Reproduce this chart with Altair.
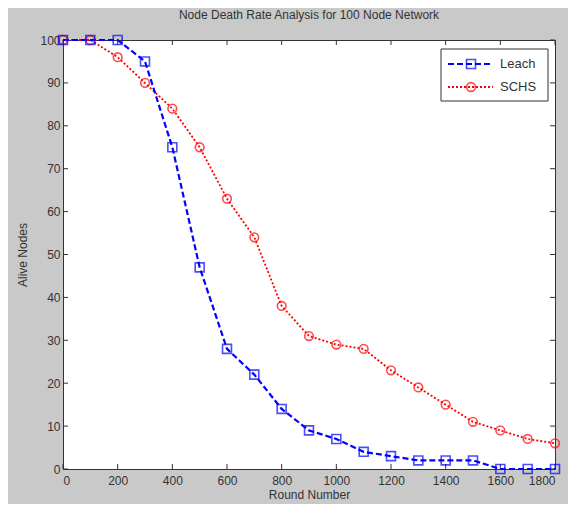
import altair as alt
import pandas as pd

rounds = [0, 100, 200, 300, 400, 500, 600, 700, 800, 900, 1000, 1100, 1200, 1300, 1400, 1500, 1600, 1700, 1800]
leach = [100, 100, 100, 95, 75, 47, 28, 22, 14, 9, 7, 4, 3, 2, 2, 2, 0, 0, 0]
schs = [100, 100, 96, 90, 84, 75, 63, 54, 38, 31, 29, 28, 23, 19, 15, 11, 9, 7, 6]
x_ticks = [0, 200, 400, 600, 800, 1000, 1200, 1400, 1600, 1800]
y_ticks = [0, 10, 20, 30, 40, 50, 60, 70, 80, 90, 100]
series_names = ["Leach", "SCHS"]

W, H = 492, 429
INK = "#333333"
FONT = "Liberation Sans"

xs = alt.Scale(domain=[0, 1800], nice=False, zero=False)
ys = alt.Scale(domain=[0, 100], nice=False, zero=False)
ax_x = alt.Axis(values=x_ticks, title="Round Number", ticks=False, grid=False,
                labelPadding=6, titlePadding=3, format="d")
ax_y = alt.Axis(values=y_ticks, title="Alive Nodes", ticks=False, grid=False,
                labelPadding=3, titlePadding=10, format="d")

df_l = pd.DataFrame({"round": rounds, "alive": leach})
df_s = pd.DataFrame({"round": rounds, "alive": schs})
df_xt = pd.DataFrame({"round": x_ticks})
df_yt = pd.DataFrame({"alive": y_ticks})

X = alt.X("round:Q", scale=xs, axis=ax_x)
Y = alt.Y("alive:Q", scale=ys, axis=ax_y)

leach_line = alt.Chart(df_l).mark_line(color="#0000ff", strokeWidth=2.2, strokeDash=[6, 3]).encode(x=X, y=Y)
leach_pts = alt.Chart(df_l).mark_point(shape="square", color="#0000ff", filled=False, size=80, strokeWidth=1.6).encode(x=X, y=Y)
schs_line = alt.Chart(df_s).mark_line(color="#ff0000", strokeWidth=1.8, strokeDash=[2, 2]).encode(x=X, y=Y)
schs_pts = alt.Chart(df_s).mark_point(shape="circle", color="#ff0000", filled=False, size=75, strokeWidth=1.6).encode(x=X, y=Y)

# inward ticks on all four sides
xt_bot = alt.Chart(df_xt).mark_rule(color=INK).encode(x=X, y=alt.value(H - 5), y2=alt.value(H))
xt_top = alt.Chart(df_xt).mark_rule(color=INK).encode(x=X, y=alt.value(0), y2=alt.value(5))
yt_left = alt.Chart(df_yt).mark_rule(color=INK).encode(y=Y, x=alt.value(0), x2=alt.value(5))
yt_right = alt.Chart(df_yt).mark_rule(color=INK).encode(y=Y, x=alt.value(W - 5), x2=alt.value(W))

# legend
df_n1 = pd.DataFrame({"name": [series_names[0]]})
df_n2 = pd.DataFrame({"name": [series_names[1]]})
leg_box = alt.Chart(df_n1).mark_rect(fill="white", stroke=INK, strokeWidth=1).encode(
    x=alt.value(378), x2=alt.value(485), y=alt.value(9), y2=alt.value(61))
leg_l1 = alt.Chart(df_n1).mark_rule(color="#0000ff", strokeWidth=2.2, strokeDash=[6, 3]).encode(
    x=alt.value(385), x2=alt.value(430), y=alt.value(24))
leg_p1 = alt.Chart(df_n1).mark_point(shape="square", color="#0000ff", filled=False, size=80, strokeWidth=1.6).encode(
    x=alt.value(408), y=alt.value(24))
leg_t1 = alt.Chart(df_n1).mark_text(align="left", baseline="middle", font=FONT, fontSize=13, color=INK).encode(
    x=alt.value(437), y=alt.value(24), text="name:N")
leg_l2 = alt.Chart(df_n2).mark_rule(color="#ff0000", strokeWidth=1.8, strokeDash=[2, 2]).encode(
    x=alt.value(385), x2=alt.value(430), y=alt.value(47))
leg_p2 = alt.Chart(df_n2).mark_point(shape="circle", color="#ff0000", filled=False, size=75, strokeWidth=1.6).encode(
    x=alt.value(408), y=alt.value(47))
leg_t2 = alt.Chart(df_n2).mark_text(align="left", baseline="middle", font=FONT, fontSize=13, color=INK).encode(
    x=alt.value(437), y=alt.value(47), text="name:N")

chart = alt.layer(
    xt_bot, xt_top, yt_left, yt_right,
    schs_line, leach_line, schs_pts, leach_pts,
    leg_box, leg_l1, leg_l2, leg_p1, leg_p2, leg_t1, leg_t2,
).properties(
    width=W, height=H,
    autosize=alt.AutoSizeParams(type="none"),
    padding={"left": 55, "top": 32, "right": 13, "bottom": 35},
    background="#c9c9c9",
    title=alt.TitleParams("Node Death Rate Analysis for 100 Node Network", font=FONT, fontSize=12,
                          fontWeight="normal", color=INK, anchor="middle", frame="group", offset=10),
).configure_view(
    fill="white", stroke=INK, strokeWidth=1
).configure_axis(
    domainColor=INK, labelColor=INK, titleColor=INK, labelFont=FONT, titleFont=FONT,
    labelFontSize=12, titleFontSize=12, titleFontWeight="normal"
)

chart.save("out.html", embed_options={"renderer": "svg", "actions": False})
